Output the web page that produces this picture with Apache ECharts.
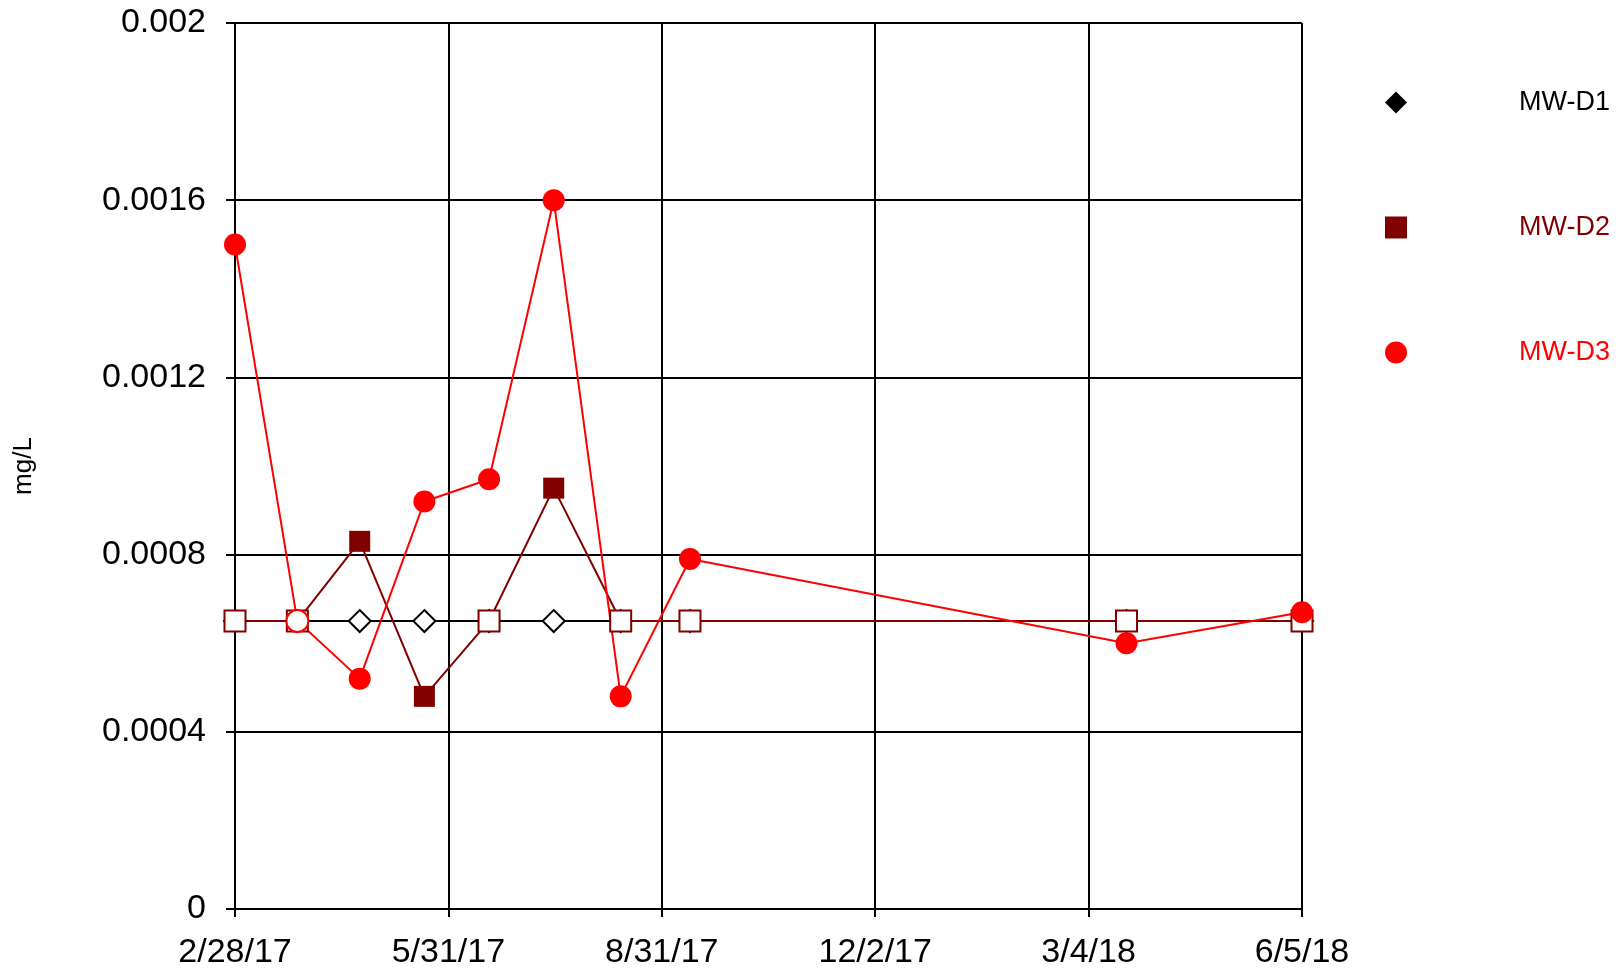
<!DOCTYPE html>
<html>
<head>
<meta charset="utf-8">
<script src="https://cdn.jsdelivr.net/npm/echarts@6/dist/echarts.min.js"></script>
<style>
  html, body { margin: 0; padding: 0; background: #fff; }
  #chart { width: 1623px; height: 971px; }
</style>
</head>
<body>
<div id="chart"></div>
<script>
// sample dates
const sampleDates = ['2/28/17', '3/27/17', '4/23/17', '5/21/17', '6/18/17', '7/16/17', '8/14/17', '9/13/17', '3/21/18', '6/5/18'];
const xTickLabels = ['2/28/17', '5/31/17', '8/31/17', '12/2/17', '3/4/18', '6/5/18'];

// values in mg/L, 1 = detected (filled marker), 0 = non-detect (open marker)
const d1Values = [0.00065, 0.00065, 0.00065, 0.00065, 0.00065, 0.00065, 0.00065, 0.00065, 0.00065, 0.00065];
const d1Detect = [0, 0, 0, 0, 0, 0, 0, 0, 0, 0];
const d2Values = [0.00065, 0.00065, 0.00083, 0.00048, 0.00065, 0.00095, 0.00065, 0.00065, 0.00065, 0.00065];
const d2Detect = [0, 0, 1, 1, 0, 1, 0, 0, 0, 0];
const d3Values = [0.0015, 0.00065, 0.00052, 0.00092, 0.00097, 0.0016, 0.00048, 0.00079, 0.0006, 0.00067];
const d3Detect = [1, 0, 1, 1, 1, 1, 1, 1, 1, 1];

const FONT = "'Liberation Sans', Arial, sans-serif";
const TICK_STEP = 92.4;

function parseDate(s) {
  const [m, d, y] = s.split('/').map(Number);
  return Date.UTC(2000 + y, m - 1, d);
}
const base = parseDate(sampleDates[0]);
const days = sampleDates.map((s) => Math.round((parseDate(s) - base) / 86400000));

function makeSeries(name, values, detect, symbol, size, color) {
  return {
    name: name,
    type: 'line',
    symbol: symbol,
    symbolSize: size,
    lineStyle: { color: color, width: 2 },
    itemStyle: { color: color },
    data: values.map((v, i) => {
      const item = { value: [days[i], v] };
      if (!detect[i]) {
        item.itemStyle = { color: '#fff', borderColor: color, borderWidth: 2 };
      }
      return item;
    }),
  };
}

const series = [
  makeSeries('MW-D1', d1Values, d1Detect, 'diamond', 22, '#000000'),
  makeSeries('MW-D2', d2Values, d2Detect, 'rect', 21, '#800000'),
  makeSeries('MW-D3', d3Values, d3Detect, 'circle', 22, '#ff0000'),
];

const option = {
  animation: false,
  textStyle: { fontFamily: FONT },
  grid: { left: 235, right: 321, top: 23, bottom: 62, outerBoundsMode: 'none' },
  legend: {
    orient: 'vertical',
    left: 1380,
    top: 84,
    itemWidth: 22,
    itemHeight: 22,
    itemGap: 98,
    selectedMode: false,
    formatter: (name) => '{n|' + name + '}',
    textStyle: {
      fontFamily: FONT,
      fontSize: 27,
      rich: { n: { width: 198, align: 'right', fontSize: 27, fontFamily: FONT } },
    },
    data: [
      { name: 'MW-D1', icon: 'diamond', textStyle: { color: '#000000' } },
      { name: 'MW-D2', icon: 'rect', textStyle: { color: '#800000' } },
      { name: 'MW-D3', icon: 'circle', textStyle: { color: '#ff0000' } },
    ],
  },
  xAxis: {
    type: 'value',
    min: 0,
    max: 462,
    interval: TICK_STEP,
    axisLine: { lineStyle: { color: '#000', width: 2 } },
    axisTick: { show: true, inside: false, length: 8, lineStyle: { color: '#000', width: 2 } },
    splitLine: { show: true, lineStyle: { color: '#000', width: 2 } },
    axisLabel: {
      color: '#000',
      fontSize: 34,
      fontFamily: FONT,
      margin: 27,
      formatter: (v) => xTickLabels[Math.round(v / TICK_STEP)] || '',
    },
  },
  yAxis: {
    type: 'value',
    min: 0,
    max: 0.002,
    interval: 0.0004,
    name: 'mg/L',
    nameLocation: 'middle',
    nameRotate: 90,
    nameGap: 198,
    nameTextStyle: { color: '#000', fontSize: 26, fontFamily: FONT },
    axisLine: { show: true, lineStyle: { color: '#000', width: 2 } },
    axisTick: { show: true, inside: false, length: 9, lineStyle: { color: '#000', width: 2 } },
    splitLine: { show: true, lineStyle: { color: '#000', width: 2 } },
    axisLabel: {
      color: '#000',
      fontSize: 34,
      fontFamily: FONT,
      margin: 29,
      formatter: (v) => String(+v.toFixed(4)),
    },
  },
  series,
};

const chart = echarts.init(document.getElementById('chart'));
chart.setOption(option);
</script>
</body>
</html>
